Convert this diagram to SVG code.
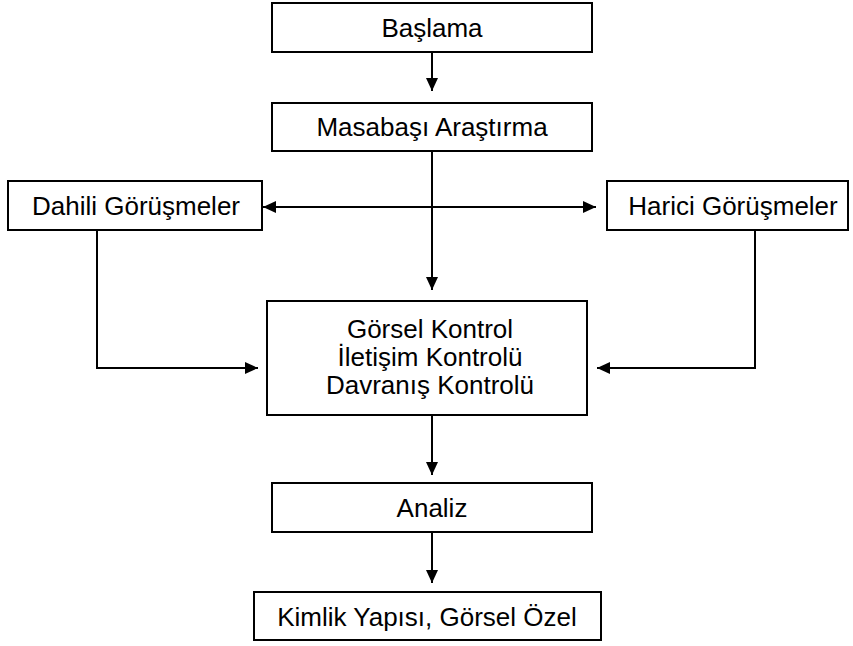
<svg xmlns="http://www.w3.org/2000/svg" width="853" height="646" viewBox="0 0 853 646">
<defs>
<marker id="ah" viewBox="0 0 13 12" refX="13" refY="6" markerWidth="13" markerHeight="12" markerUnits="userSpaceOnUse" orient="auto-start-reverse">
<path d="M0,0 L13,6 L0,12 Z" fill="#000"/>
</marker>
</defs>
<style>
.box{fill:#fff;stroke:#000;stroke-width:2}
.t{font-family:"Liberation Sans",Arial,sans-serif;font-size:26px;fill:#000;text-anchor:middle}
.c{fill:none;stroke:#000;stroke-width:2}
</style>
<rect width="853" height="646" fill="#fff"/>
<g id="connectors">
<line class="c" x1="432" y1="52" x2="432" y2="91" marker-end="url(#ah)"/>
<line class="c" x1="432" y1="151" x2="432" y2="290" marker-end="url(#ah)"/>
<line class="c" x1="263" y1="207" x2="596" y2="207" marker-start="url(#ah)" marker-end="url(#ah)"/>
<polyline class="c" points="97,230 97,368 258,368" marker-end="url(#ah)"/>
<polyline class="c" points="755,230 755,368 597,368" marker-end="url(#ah)"/>
<line class="c" x1="432" y1="415" x2="432" y2="475" marker-end="url(#ah)"/>
<line class="c" x1="432" y1="532" x2="432" y2="583" marker-end="url(#ah)"/>
</g>
<g id="baslama"><rect class="box" x="272" y="3" width="320" height="49"/><text class="t" x="432" y="37">Başlama</text></g>
<g id="masabasi"><rect class="box" x="272" y="103" width="320" height="48"/><text class="t" x="432" y="136">Masabaşı Araştırma</text></g>
<g id="dahili"><rect class="box" x="8" y="181" width="254" height="49"/><text class="t" x="136" y="215">Dahili Görüşmeler</text></g>
<g id="harici"><rect class="box" x="607" y="181" width="241" height="49"/><text class="t" x="733" y="215">Harici Görüşmeler</text></g>
<g id="kontrol"><rect class="box" x="267" y="301" width="320" height="114"/>
<text class="t" x="430" y="338">Görsel Kontrol</text>
<text class="t" x="430" y="366">İletişim Kontrolü</text>
<text class="t" x="430" y="394">Davranış Kontrolü</text></g>
<g id="analiz"><rect class="box" x="272" y="483" width="320" height="49"/><text class="t" x="432" y="517">Analiz</text></g>
<g id="kimlik"><rect class="box" x="254" y="592" width="347" height="48"/><text class="t" x="427" y="626">Kimlik Yapısı, Görsel Özel</text></g>
</svg>
